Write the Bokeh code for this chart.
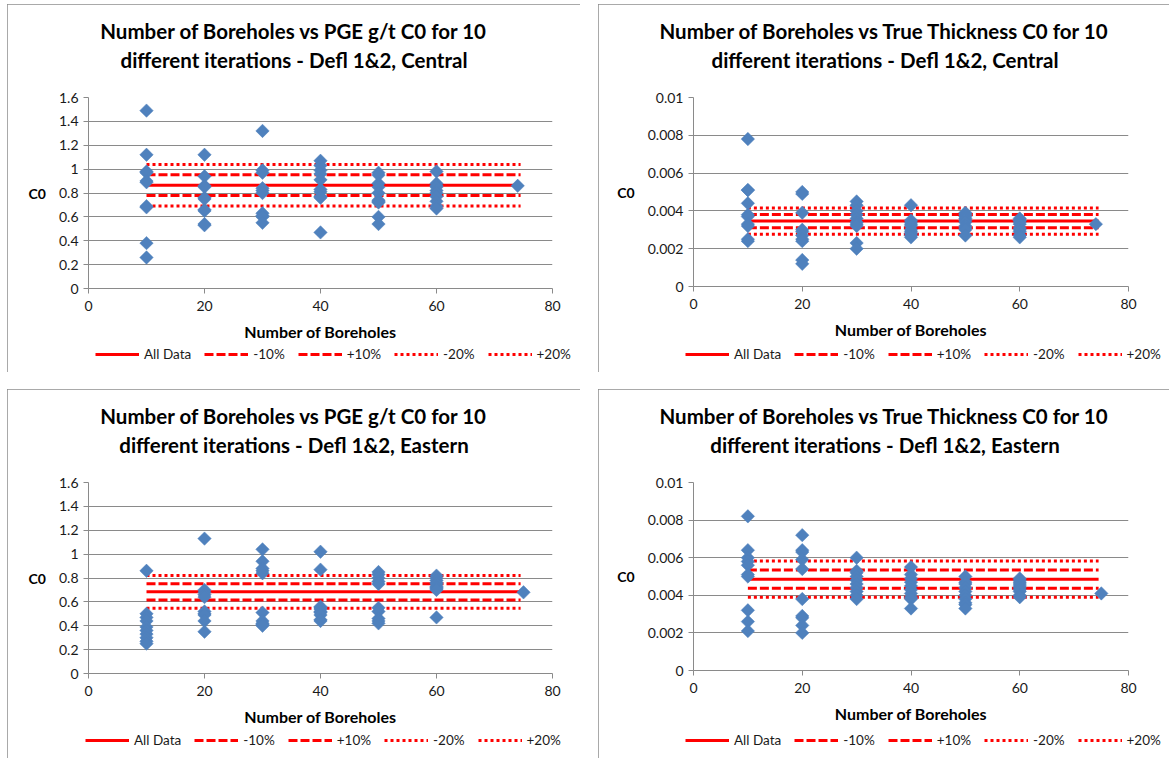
from bokeh.plotting import figure
from bokeh.models import Legend, LegendItem, FixedTicker, Range1d
from bokeh.core.properties import value
from bokeh.embed import file_html
from bokeh.resources import INLINE

# ---------------- data ----------------
sample_sizes = [10, 20, 30, 40, 50, 60]
line_x = [10, 74.5]
line_names = ["All Data", "-10%", "+10%", "-20%", "+20%"]

x_ticks = [0, 20, 40, 60, 80]
x_tick_labels = ["0", "20", "40", "60", "80"]
pge_y_ticks = [0, 0.2, 0.4, 0.6, 0.8, 1.0, 1.2, 1.4, 1.6]
pge_y_labels = ["0", "0.2", "0.4", "0.6", "0.8", "1", "1.2", "1.4", "1.6"]
thk_y_ticks = [0, 0.002, 0.004, 0.006, 0.008, 0.01]
thk_y_labels = ["0", "0.002", "0.004", "0.006", "0.008", "0.01"]

# PGE g/t C0 - Central (10 iterations per sample size)
pge_central = [
    [1.49, 1.12, 0.98, 0.97, 0.90, 0.89, 0.69, 0.68, 0.38, 0.26],
    [1.12, 0.94, 0.86, 0.85, 0.76, 0.75, 0.66, 0.65, 0.54, 0.53],
    [1.32, 0.99, 0.97, 0.84, 0.82, 0.80, 0.63, 0.61, 0.60, 0.55],
    [1.07, 1.03, 0.99, 0.96, 0.91, 0.83, 0.81, 0.77, 0.76, 0.47],
    [0.97, 0.95, 0.88, 0.85, 0.80, 0.74, 0.73, 0.72, 0.60, 0.54],
    [0.98, 0.88, 0.86, 0.85, 0.82, 0.80, 0.77, 0.73, 0.69, 0.67],
]
pge_central_all_n = 74
pge_central_all = 0.86
pge_central_lines = [0.865, 0.779, 0.952, 0.692, 1.038]

# True Thickness C0 - Central
thk_central = [
    [0.0078, 0.0051, 0.0051, 0.0044, 0.0038, 0.0037, 0.0033, 0.0032, 0.0025, 0.0024],
    [0.0050, 0.0049, 0.0039, 0.0030, 0.0029, 0.0027, 0.0025, 0.0024, 0.0014, 0.0012],
    [0.0045, 0.0043, 0.0040, 0.0038, 0.0036, 0.0034, 0.0033, 0.0032, 0.0023, 0.0020],
    [0.0043, 0.0035, 0.0034, 0.0033, 0.0032, 0.0030, 0.0029, 0.0028, 0.0027, 0.0026],
    [0.0039, 0.0038, 0.0037, 0.0036, 0.0035, 0.0034, 0.0032, 0.0031, 0.0030, 0.0027],
    [0.0036, 0.0035, 0.0035, 0.0034, 0.0033, 0.0031, 0.0030, 0.0029, 0.0027, 0.0026],
]
thk_central_all_n = 74
thk_central_all = 0.0033
thk_central_lines = [0.00346, 0.00311, 0.00381, 0.00277, 0.00415]

# PGE g/t C0 - Eastern
pge_eastern = [
    [0.86, 0.50, 0.47, 0.44, 0.39, 0.36, 0.33, 0.30, 0.27, 0.25],
    [1.13, 0.70, 0.68, 0.66, 0.64, 0.52, 0.50, 0.49, 0.44, 0.35],
    [1.04, 0.94, 0.88, 0.86, 0.84, 0.51, 0.44, 0.42, 0.41, 0.40],
    [1.02, 0.87, 0.56, 0.55, 0.54, 0.52, 0.51, 0.49, 0.45, 0.44],
    [0.85, 0.83, 0.80, 0.77, 0.75, 0.55, 0.52, 0.46, 0.44, 0.42],
    [0.82, 0.80, 0.78, 0.76, 0.75, 0.73, 0.72, 0.71, 0.70, 0.47],
]
pge_eastern_all_n = 75
pge_eastern_all = 0.68
pge_eastern_lines = [0.684, 0.616, 0.752, 0.547, 0.821]

# True Thickness C0 - Eastern
thk_eastern = [
    [0.0082, 0.0064, 0.0060, 0.0058, 0.0056, 0.0051, 0.0050, 0.0032, 0.0026, 0.0021],
    [0.0072, 0.0064, 0.0063, 0.0059, 0.0054, 0.0038, 0.0029, 0.0028, 0.0024, 0.0020],
    [0.0060, 0.0053, 0.0052, 0.0050, 0.0048, 0.0046, 0.0044, 0.0042, 0.0040, 0.0038],
    [0.0055, 0.0051, 0.0049, 0.0047, 0.0045, 0.0043, 0.0041, 0.0039, 0.0038, 0.0033],
    [0.0050, 0.0047, 0.0046, 0.0044, 0.0042, 0.0040, 0.0038, 0.0036, 0.0035, 0.0033],
    [0.0049, 0.0048, 0.0047, 0.0046, 0.0045, 0.0044, 0.0043, 0.0042, 0.0040, 0.0039],
]
thk_eastern_all_n = 75
thk_eastern_all = 0.0041
thk_eastern_lines = [0.00486, 0.00437, 0.00535, 0.00389, 0.00583]

# ---------------- styling ----------------
FONT = "Lato"
GRID = "#8a8a8a"
BLUE = "#4F81BD"
RED = "#FF0000"
TXT = "#1a1a1a"
line_dashes = ["solid", "9 3", "9 3", "3 3", "3 3"]
TOP = 93


def make_panel(groups, all_n, all_v, lines, y_max, y_ticks, y_labels,
               width, height, left, right, bottom, pos_x, pos_y):
    p = figure(width=width, height=height, output_backend="svg", toolbar_location=None,
               x_range=Range1d(0, 80), y_range=Range1d(0, y_max),
               min_border_left=left, min_border_right=right,
               min_border_top=TOP, min_border_bottom=bottom,
               background_fill_color="white", border_fill_color="white",
               styles={"position": "absolute", "left": "%dpx" % pos_x, "top": "%dpx" % pos_y,
                       "outline": "2px solid #8c8c8c", "outline-offset": "-2px"})
    p.outline_line_color = None

    # axes
    p.xaxis.ticker = FixedTicker(ticks=x_ticks)
    p.xaxis.major_label_overrides = dict(zip(x_ticks, x_tick_labels))
    p.yaxis.ticker = FixedTicker(ticks=y_ticks)
    p.yaxis.major_label_overrides = dict(zip(y_ticks, y_labels))
    for ax in (p.xaxis[0], p.yaxis[0]):
        ax.axis_line_color = GRID
        ax.major_tick_line_color = GRID
        ax.major_tick_out = 5
        ax.major_tick_in = 0
        ax.minor_tick_line_color = None
        ax.major_label_text_font = FONT
        ax.major_label_text_font_size = "14px"
        ax.major_label_text_color = TXT
        ax.axis_label_text_font = FONT
        ax.axis_label_text_font_style = "bold"
        ax.axis_label_text_color = "#000000"
    p.xaxis.major_label_standoff = 7
    p.yaxis.major_label_standoff = 5
    p.xaxis.axis_label = "Number of Boreholes"
    p.xaxis.axis_label_text_font_size = "16px"
    p.xaxis.axis_label_standoff = 8
    p.yaxis.axis_label = "C0"
    p.yaxis.axis_label_text_font_size = "14px"
    p.yaxis.axis_label_standoff = 10
    try:
        p.yaxis.axis_label_orientation = "horizontal"
    except Exception:
        pass

    p.xgrid.visible = False
    p.ygrid.ticker = FixedTicker(ticks=y_ticks)
    p.ygrid.grid_line_color = GRID
    p.ygrid.grid_line_width = 1

    # reference lines
    for val, dash in zip(lines, line_dashes):
        p.line(line_x, [val, val], line_color=RED, line_width=3, line_dash=dash)

    # scatter points
    xs, ys = [], []
    for n, vals in zip(sample_sizes, groups):
        for v in vals:
            xs.append(n)
            ys.append(v)
    xs.append(all_n)
    ys.append(all_v)
    p.scatter(xs, ys, marker="square", angle=0.785398, size=9.5,
              fill_color=BLUE, line_color=BLUE, line_width=0.5)
    return p


def make_overlay(title_lines, width, height, pos_x, pos_y, legend_x):
    # transparent layer carrying the two-line title and the legend
    o = figure(width=width, height=height, output_backend="svg", toolbar_location=None,
               title=None, x_range=Range1d(0, width), y_range=Range1d(0, height),
               x_axis_type=None, y_axis_type=None,
               min_border_left=0, min_border_right=0, min_border_top=0, min_border_bottom=0,
               background_fill_color=None, border_fill_color=None,
               styles={"position": "absolute", "left": "%dpx" % pos_x, "top": "%dpx" % pos_y})
    o.outline_line_color = None
    o.xgrid.grid_line_color = None
    o.ygrid.grid_line_color = None

    o.text(x=[286.5, 286.5], y=[height - 26, height - 55], text=title_lines,
           text_font=value(FONT), text_font_size="20.5px", text_font_style="bold",
           text_color="#000000", text_align="center", text_baseline="middle")

    items = []
    for name, dash in zip(line_names, line_dashes):
        r = o.line([-20, -10], [-20, -20], line_color=RED, line_width=3, line_dash=dash)
        items.append(LegendItem(label=name, renderers=[r]))
    legend = Legend(items=items, orientation="horizontal", location=(legend_x, 10),
                    label_text_font=FONT, label_text_font_size="13.5px",
                    label_text_color=TXT, glyph_width=44, glyph_height=16,
                    label_standoff=5, spacing=13, padding=0, margin=0,
                    label_height=16, border_line_color=None,
                    background_fill_alpha=0)
    o.add_layout(legend)
    return o


p1 = make_panel(pge_central, pge_central_all_n, pge_central_all, pge_central_lines,
                1.6, pge_y_ticks, pge_y_labels, 573, 368, 81, 28, 84, 7, 4)
p2 = make_panel(thk_central, thk_central_all_n, thk_central_all, thk_central_lines,
                0.01, thk_y_ticks, thk_y_labels, 573, 368, 95, 43, 86, 598, 4)
p3 = make_panel(pge_eastern, pge_eastern_all_n, pge_eastern_all, pge_eastern_lines,
                1.6, pge_y_ticks, pge_y_labels, 573, 369, 81, 28, 85, 7, 389)
p4 = make_panel(thk_eastern, thk_eastern_all_n, thk_eastern_all, thk_eastern_lines,
                0.01, thk_y_ticks, thk_y_labels, 571, 369, 95, 41, 88, 598, 389)

o1 = make_overlay(["Number of Boreholes vs PGE g/t C0 for 10",
                   "different iterations - Defl 1&2, Central"], 573, 368, 7, 4, 88)
o2 = make_overlay(["Number of Boreholes vs True Thickness C0 for 10",
                   "different iterations - Defl 1&2, Central"], 571, 368, 598, 4, 87)
o3 = make_overlay(["Number of Boreholes vs PGE g/t C0 for 10",
                   "different iterations - Defl 1&2, Eastern"], 573, 369, 7, 389, 78)
o4 = make_overlay(["Number of Boreholes vs True Thickness C0 for 10",
                   "different iterations - Defl 1&2, Eastern"], 571, 369, 598, 389, 87)

open("out.html", "w").write(file_html([p1, p2, p3, p4, o1, o2, o3, o4], INLINE))
